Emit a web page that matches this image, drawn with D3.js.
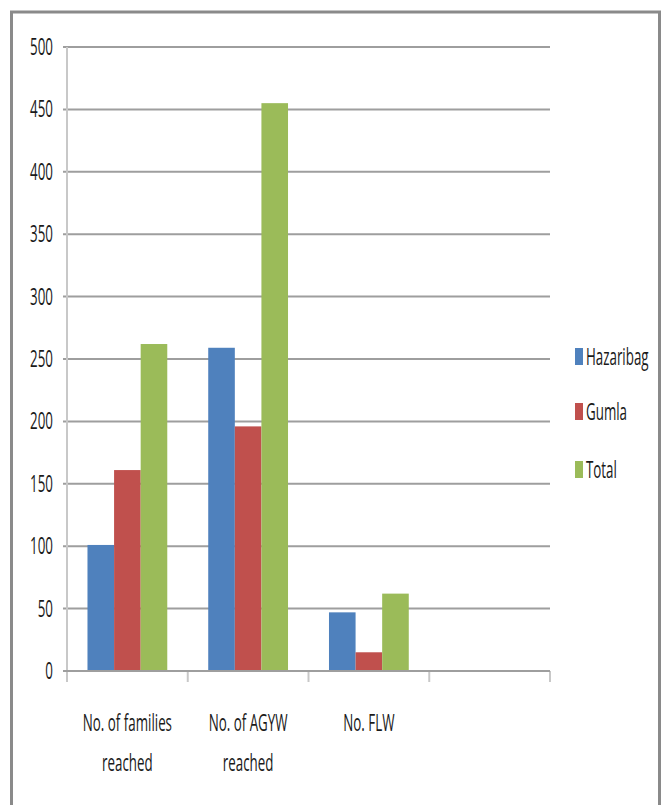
<!DOCTYPE html>
<html>
<head>
    <script src="https://d3js.org/d3.v7.min.js"></script>
    <style>
        body { margin: 0; background: #fff; }
        text { font-family: "Open Sans", sans-serif; fill: #1a1a1a; }
    </style>
</head>
<body>
    <div id="viz"></div>
    <script type="text/javascript">

    var categories = [["No. of families", "reached"], ["No. of AGYW", "reached"], ["No. FLW"], [""]];
    var seriesNames = ["Hazaribag", "Gumla", "Total"];
    var hazaribag = [101, 259, 47];
    var gumla = [161, 196, 15];
    var total = [262, 455, 62];
    var yTicks = [0, 50, 100, 150, 200, 250, 300, 350, 400, 450, 500];
    var colors = ["#4f81bd", "#c0504d", "#9bbb59"];

    var series = [hazaribag, gumla, total];
    var squeeze = 0.58;

    var svg = d3.select("#viz")
        .append("svg")
        .attr("width", 665)
        .attr("height", 805);

    // frame
    svg.append("rect")
        .attr("x", 11.5).attr("y", 12)
        .attr("width", 648).attr("height", 805)
        .style("fill", "none")
        .style("stroke", "#8a8a8a")
        .style("stroke-width", 3);

    var x = d3.scaleBand()
        .domain(d3.range(categories.length))
        .range([67, 550]);

    var y = d3.scaleLinear()
        .domain([0, 500])
        .range([671, 47]);

    var inner = d3.scaleBand()
        .domain(d3.range(series.length))
        .range([0, x.bandwidth()])
        .paddingOuter(0.77)
        .paddingInner(0);

    // gridlines
    svg.selectAll(".grid")
        .data(yTicks)
        .enter().append("line")
        .attr("x1", 63).attr("x2", 550)
        .attr("y1", function(d) { return y(d); })
        .attr("y2", function(d) { return y(d); })
        .style("stroke", "#9e9e9e")
        .style("stroke-width", 2);

    // y axis line
    svg.append("line")
        .attr("x1", 67).attr("x2", 67)
        .attr("y1", 47).attr("y2", 680)
        .style("stroke", "#c8c8c8")
        .style("stroke-width", 2);

    // x ticks at category boundaries
    var bounds = d3.range(categories.length + 1).map(function(i) {
        return i < categories.length ? x(i) : x(categories.length - 1) + x.bandwidth();
    });
    svg.selectAll(".xtick")
        .data(bounds)
        .enter().append("line")
        .attr("x1", function(d) { return d; })
        .attr("x2", function(d) { return d; })
        .attr("y1", 671).attr("y2", 682)
        .style("stroke", "#c8c8c8")
        .style("stroke-width", 2);

    // y labels
    svg.selectAll(".ylab")
        .data(yTicks)
        .enter().append("text")
        .attr("transform", function(d) { return "translate(53," + (y(d) + 8) + ") scale(" + squeeze + ",1)"; })
        .attr("text-anchor", "end")
        .style("font-size", "23px")
        .text(function(d) { return d; });

    // bars
    series.forEach(function(vals, s) {
        svg.selectAll(".bar" + s)
            .data(vals)
            .enter().append("rect")
            .attr("x", function(d, i) { return x(i) + inner(s); })
            .attr("width", inner.bandwidth())
            .attr("y", function(d) { return y(d); })
            .attr("height", function(d) { return y(0) - y(d); })
            .style("fill", colors[s]);
    });

    // zero line on top
    svg.append("line")
        .attr("x1", 63).attr("x2", 550)
        .attr("y1", y(0)).attr("y2", y(0))
        .style("stroke", "#9e9e9e")
        .style("stroke-width", 2);

    // category labels
    categories.forEach(function(lines, i) {
        lines.forEach(function(t, j) {
            svg.append("text")
                .attr("transform", "translate(" + (x(i) + x.bandwidth() / 2) + "," + (731 + j * 40) + ") scale(" + squeeze + ",1)")
                .attr("text-anchor", "middle")
                .style("font-size", "23px")
                .text(t);
        });
    });

    // legend
    var legendY = [357, 412, 470];
    seriesNames.forEach(function(name, s) {
        svg.append("rect")
            .attr("x", 575).attr("y", legendY[s] - 9)
            .attr("width", 8).attr("height", 17)
            .style("fill", colors[s]);
        svg.append("text")
            .attr("transform", "translate(586," + (legendY[s] + 8) + ") scale(" + squeeze + ",1)")
            .style("font-size", "23px")
            .text(name);
    });

    </script>
</body>
</html>
